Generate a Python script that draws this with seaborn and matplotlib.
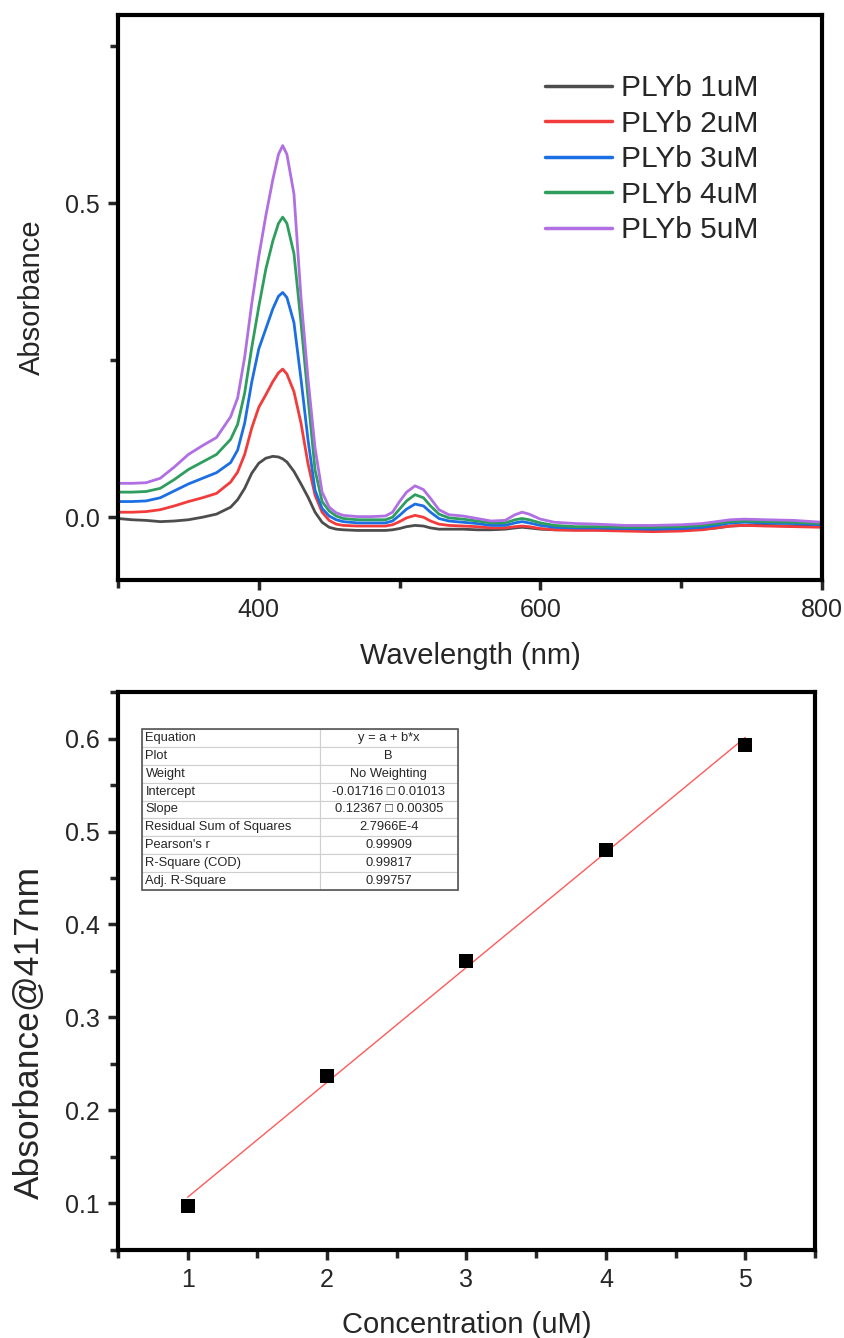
import numpy as np
import pandas as pd
import seaborn as sns
import matplotlib.pyplot as plt
from matplotlib.ticker import MultipleLocator
from matplotlib.patches import Rectangle

# UV-vis spectra
wavelength = [300, 310, 320, 330, 340, 350, 360, 370, 380, 385, 390, 395, 400, 405, 410, 414, 417, 420,
              425, 430, 435, 440, 445, 450, 455, 460, 470, 480, 490, 495, 500, 505, 511, 517, 522, 528,
              535, 545, 555, 565, 575, 582, 587, 592, 600, 610, 625, 640, 660, 680, 700, 715, 725, 735,
              745, 760, 780, 800]

abs_1uM = [-0.002, -0.004, -0.005, -0.007, -0.006, -0.004, 0.000, 0.005, 0.016, 0.028, 0.046, 0.070, 0.086,
           0.094, 0.097, 0.096, 0.093, 0.088, 0.073, 0.053, 0.032, 0.008, -0.008, -0.016, -0.019, -0.020,
           -0.021, -0.021, -0.021, -0.020, -0.018, -0.015, -0.013, -0.014, -0.017, -0.019, -0.019, -0.019,
           -0.020, -0.020, -0.019, -0.017, -0.016, -0.017, -0.019, -0.020, -0.020, -0.020, -0.021, -0.021,
           -0.020, -0.019, -0.017, -0.014, -0.013, -0.013, -0.014, -0.015]
abs_2uM = [0.008, 0.008, 0.009, 0.012, 0.018, 0.025, 0.031, 0.038, 0.056, 0.072, 0.100, 0.142, 0.175,
           0.195, 0.216, 0.230, 0.236, 0.228, 0.200, 0.150, 0.085, 0.035, 0.008, -0.005, -0.011, -0.013,
           -0.014, -0.014, -0.014, -0.012, -0.007, -0.001, 0.003, 0.000, -0.006, -0.011, -0.013, -0.014,
           -0.015, -0.017, -0.017, -0.015, -0.014, -0.015, -0.018, -0.020, -0.021, -0.021, -0.022, -0.023,
           -0.022, -0.020, -0.017, -0.014, -0.013, -0.014, -0.015, -0.016]
abs_3uM = [0.025, 0.025, 0.026, 0.031, 0.042, 0.053, 0.062, 0.071, 0.087, 0.107, 0.150, 0.215, 0.268,
           0.300, 0.332, 0.352, 0.358, 0.350, 0.310, 0.220, 0.123, 0.043, 0.014, 0.002, -0.004, -0.007,
           -0.009, -0.009, -0.009, -0.006, 0.003, 0.013, 0.021, 0.018, 0.008, -0.002, -0.006, -0.008,
           -0.010, -0.013, -0.013, -0.009, -0.007, -0.009, -0.013, -0.016, -0.017, -0.017, -0.018, -0.019,
           -0.018, -0.016, -0.013, -0.009, -0.008, -0.009, -0.010, -0.012]
abs_4uM = [0.040, 0.040, 0.041, 0.046, 0.060, 0.076, 0.088, 0.100, 0.124, 0.148, 0.198, 0.270, 0.335,
           0.395, 0.440, 0.468, 0.478, 0.468, 0.420, 0.310, 0.190, 0.075, 0.025, 0.010, 0.002, -0.002,
           -0.004, -0.004, -0.004, 0.000, 0.013, 0.026, 0.036, 0.031, 0.018, 0.005, -0.001, -0.003,
           -0.006, -0.009, -0.009, -0.004, -0.002, -0.004, -0.009, -0.013, -0.015, -0.015, -0.016, -0.016,
           -0.015, -0.013, -0.010, -0.007, -0.006, -0.007, -0.008, -0.010]
abs_5uM = [0.054, 0.054, 0.055, 0.062, 0.080, 0.100, 0.114, 0.127, 0.160, 0.190, 0.255, 0.340, 0.415,
           0.480, 0.538, 0.578, 0.592, 0.578, 0.515, 0.350, 0.220, 0.110, 0.040, 0.016, 0.007, 0.003,
           0.001, 0.001, 0.002, 0.008, 0.025, 0.040, 0.050, 0.044, 0.030, 0.012, 0.004, 0.002,
           -0.002, -0.006, -0.005, 0.004, 0.008, 0.005, -0.003, -0.008, -0.010, -0.011, -0.013, -0.013,
           -0.012, -0.010, -0.007, -0.004, -0.003, -0.004, -0.005, -0.008]

samples = ['PLYb 1uM', 'PLYb 2uM', 'PLYb 3uM', 'PLYb 4uM', 'PLYb 5uM']
colors = ['#4d4d4d', '#f23c3c', '#1c6fe3', '#2e9e5e', '#b06fe3']

# calibration at 417 nm
concentration = [1, 2, 3, 4, 5]
abs_417 = [0.097, 0.2376, 0.361, 0.4806, 0.5935]

fit_rows = ['Equation', 'Plot', 'Weight', 'Intercept', 'Slope', 'Residual Sum of Squares',
            "Pearson's r", 'R-Square (COD)', 'Adj. R-Square']
fit_vals = ['y = a + b*x', 'B', 'No Weighting', '-0.01716 \u25a1 0.01013', '0.12367 \u25a1 0.00305',
            '2.7966E-4', '0.99909', '0.99817', '0.99757']

sns.set_style('ticks')
plt.rcParams['font.family'] = ['Liberation Sans', 'DejaVu Sans']

spectra = pd.DataFrame({
    'Wavelength': np.tile(wavelength, 5),
    'Absorbance': np.concatenate([abs_1uM, abs_2uM, abs_3uM, abs_4uM, abs_5uM]),
    'Sample': np.repeat(samples, len(wavelength)),
})

fig = plt.figure(figsize=(8.45, 13.38), dpi=100)
ax1 = fig.add_axes([0.1396, 0.5665, 0.8331, 0.4223])
ax2 = fig.add_axes([0.1396, 0.0658, 0.8249, 0.4170])

# --- top: spectra ---
sns.lineplot(data=spectra, x='Wavelength', y='Absorbance', hue='Sample', palette=colors,
             linewidth=2.0, ax=ax1, legend=True)
ax1.set_xlim(300, 800)
ax1.set_ylim(-0.1, 0.8)
ax1.xaxis.set_major_locator(MultipleLocator(200))
ax1.xaxis.set_minor_locator(MultipleLocator(100))
ax1.yaxis.set_major_locator(MultipleLocator(0.5))
ax1.yaxis.set_minor_locator(MultipleLocator(0.25))
ax1.yaxis.set_major_formatter(plt.FormatStrFormatter('%.1f'))
ax1.set_xlabel('Wavelength (nm)', fontsize=21, labelpad=14)
ax1.set_ylabel('Absorbance', fontsize=21, labelpad=14)
h, l = ax1.get_legend_handles_labels()
leg = ax1.legend(h, l, loc='upper left', bbox_to_anchor=(0.607, 0.895), frameon=False,
                 fontsize=21.5, handlelength=2.25, handletextpad=0.27, labelspacing=0.25,
                 borderaxespad=0, borderpad=0)
for ln in leg.get_lines():
    ln.set_linewidth(2.5)

# --- bottom: calibration ---
sns.regplot(x=concentration, y=abs_417, ci=None, truncate=True, ax=ax2,
            marker='s', scatter_kws={'s': 115, 'color': 'black', 'alpha': 1, 'zorder': 3,
                                     'linewidths': 0},
            line_kws={'color': '#ff5a5a', 'linewidth': 1.0, 'zorder': 2})
ax2.set_xlim(0.5, 5.5)
ax2.set_ylim(0.05, 0.65)
ax2.xaxis.set_major_locator(MultipleLocator(1))
ax2.xaxis.set_minor_locator(MultipleLocator(0.5))
ax2.yaxis.set_major_locator(MultipleLocator(0.1))
ax2.yaxis.set_minor_locator(MultipleLocator(0.05))
ax2.yaxis.set_major_formatter(plt.FormatStrFormatter('%.1f'))
ax2.set_xlabel('Concentration (uM)', fontsize=21, labelpad=14)
ax2.set_ylabel('Absorbance@417nm', fontsize=25.5)
ax2.yaxis.set_label_coords(-0.104, 0.39)

tbl = ax2.table(cellText=[[r, v] for r, v in zip(fit_rows, fit_vals)],
                colWidths=[0.563, 0.437], bbox=[0.0344, 0.645, 0.453, 0.289])
tbl.auto_set_font_size(False)
tbl.set_fontsize(9.3)
for (r, c), cell in tbl.get_celld().items():
    cell.set_edgecolor('#cfcfcf')
    cell.set_linewidth(0.8)
    cell.get_text().set_ha('left' if c == 0 else 'center')
    if c == 0:
        cell.PAD = 0.02
ax2.add_patch(Rectangle((0.0344, 0.645), 0.453, 0.289, transform=ax2.transAxes, fill=False,
                        edgecolor='#555555', linewidth=1.2, zorder=5))

for ax in (ax1, ax2):
    for s in ax.spines.values():
        s.set_linewidth(3)
        s.set_color('black')
    ax.tick_params(which='major', direction='out', length=7, width=2.5, labelsize=18,
                   top=False, right=False, pad=6)
    ax.tick_params(which='minor', direction='out', length=6, width=2.5, top=False, right=False)

fig.savefig('out.png', dpi=100, facecolor='white')
